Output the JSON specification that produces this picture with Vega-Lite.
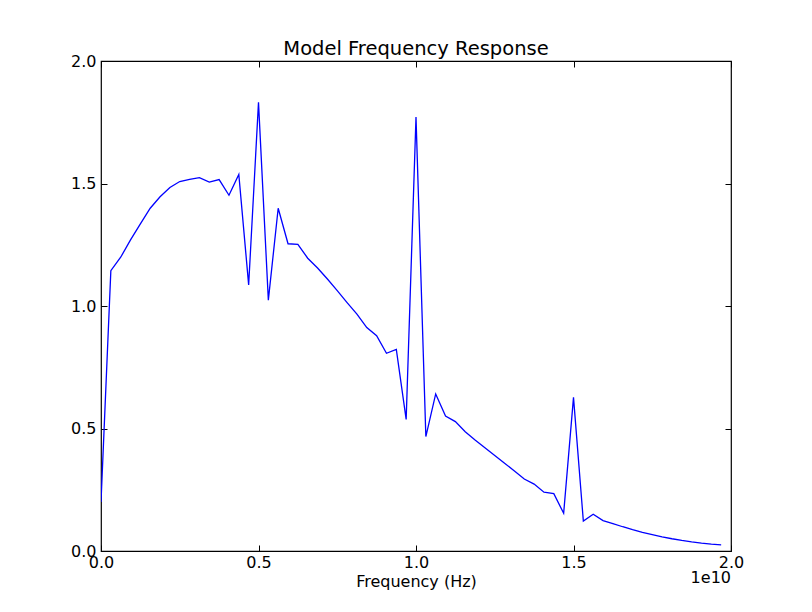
{
  "$schema": "https://vega.github.io/schema/vega-lite/v6.json",
  "width": 630,
  "height": 490,
  "autosize": {"type": "none"},
  "padding": {"left": 101, "top": 61, "right": 81, "bottom": 61},
  "background": "white",
  "title": {"text": "Model Frequency Response", "font": "DejaVu Sans", "fontSize": 19.5, "fontWeight": "normal", "color": "black", "offset": -6},
  "config": {
    "view": {"stroke": "black", "strokeWidth": 1.2},
    "axis": {"labelFont": "DejaVu Sans", "labelFontSize": 16, "labelColor": "black", "titleFont": "DejaVu Sans", "titleFontSize": 16, "titleFontWeight": "normal", "titleColor": "black", "tickColor": "black", "tickSize": -6, "tickWidth": 1, "domain": false, "grid": false, "labelFlush": false, "labelOverlap": false}
  },
  "data": {"values": [
    {"f": 0, "v": 0.2},
    {"f": 312500000, "v": 1.144},
    {"f": 625000000, "v": 1.199},
    {"f": 937500000, "v": 1.27},
    {"f": 1250000000, "v": 1.335},
    {"f": 1562500000, "v": 1.399},
    {"f": 1875000000, "v": 1.446},
    {"f": 2187500000, "v": 1.484},
    {"f": 2500000000, "v": 1.508},
    {"f": 2812500000, "v": 1.517},
    {"f": 3125000000, "v": 1.524},
    {"f": 3437500000, "v": 1.506},
    {"f": 3750000000, "v": 1.516},
    {"f": 4062500000, "v": 1.452},
    {"f": 4375000000, "v": 1.537},
    {"f": 4687500000, "v": 1.086},
    {"f": 5000000000, "v": 1.831},
    {"f": 5312500000, "v": 1.024},
    {"f": 5625000000, "v": 1.399},
    {"f": 5937500000, "v": 1.254},
    {"f": 6250000000, "v": 1.252},
    {"f": 6562500000, "v": 1.195},
    {"f": 6875000000, "v": 1.155},
    {"f": 7187500000, "v": 1.11},
    {"f": 7500000000, "v": 1.063},
    {"f": 7812500000, "v": 1.014},
    {"f": 8125000000, "v": 0.967},
    {"f": 8437500000, "v": 0.912},
    {"f": 8750000000, "v": 0.879},
    {"f": 9062500000, "v": 0.807},
    {"f": 9375000000, "v": 0.823},
    {"f": 9687500000, "v": 0.537},
    {"f": 10000000000, "v": 1.771},
    {"f": 10312500000, "v": 0.467},
    {"f": 10625000000, "v": 0.641},
    {"f": 10937500000, "v": 0.551},
    {"f": 11250000000, "v": 0.528},
    {"f": 11562500000, "v": 0.487},
    {"f": 11875000000, "v": 0.453},
    {"f": 12187500000, "v": 0.421},
    {"f": 12500000000, "v": 0.39},
    {"f": 12812500000, "v": 0.358},
    {"f": 13125000000, "v": 0.327},
    {"f": 13437500000, "v": 0.294},
    {"f": 13750000000, "v": 0.273},
    {"f": 14062500000, "v": 0.24},
    {"f": 14375000000, "v": 0.234},
    {"f": 14687500000, "v": 0.154},
    {"f": 15000000000, "v": 0.627},
    {"f": 15312500000, "v": 0.122},
    {"f": 15625000000, "v": 0.15},
    {"f": 15937500000, "v": 0.124},
    {"f": 16250000000, "v": 0.112},
    {"f": 16562500000, "v": 0.099},
    {"f": 16875000000, "v": 0.087},
    {"f": 17187500000, "v": 0.076},
    {"f": 17500000000, "v": 0.067},
    {"f": 17812500000, "v": 0.058},
    {"f": 18125000000, "v": 0.05},
    {"f": 18437500000, "v": 0.043},
    {"f": 18750000000, "v": 0.037},
    {"f": 19062500000, "v": 0.032},
    {"f": 19375000000, "v": 0.028},
    {"f": 19687500000, "v": 0.025}
  ]},
  "layer": [
    {
      "mark": {"type": "line", "color": "#0000ff", "strokeWidth": 1.3, "clip": true},
      "encoding": {
        "x": {"field": "f", "type": "quantitative", "scale": {"domain": [0, 20000000000], "nice": false, "zero": false},
              "axis": {"orient": "bottom", "values": [0, 5000000000, 10000000000, 15000000000, 20000000000], "labelExpr": "format(datum.value / 1e10, '.1f')", "labelPadding": 9, "title": "Frequency (Hz)", "titlePadding": 3}},
        "y": {"field": "v", "type": "quantitative", "scale": {"domain": [0, 2], "nice": false, "zero": false},
              "axis": {"orient": "left", "values": [0, 0.5, 1, 1.5, 2], "format": ".1f", "labelPadding": 11, "title": null}}
      }
    },
    {
      "mark": {"type": "line", "strokeOpacity": 0},
      "encoding": {
        "x": {"field": "f", "type": "quantitative", "axis": {"orient": "top", "values": [0, 5000000000, 10000000000, 15000000000, 20000000000], "labels": false, "title": null}},
        "y": {"field": "v", "type": "quantitative", "axis": {"orient": "right", "values": [0, 0.5, 1, 1.5, 2], "labels": false, "title": null}}
      }
    },
    {
      "data": {"values": [{"label": "1e10"}]},
      "mark": {"type": "text", "font": "DejaVu Sans", "fontSize": 16, "color": "black", "align": "right", "baseline": "middle", "clip": false},
      "encoding": {
        "x": {"datum": 20000000000, "type": "quantitative", "axis": null},
        "y": {"datum": -0.11, "type": "quantitative", "axis": null},
        "text": {"field": "label"}
      }
    }
  ]
}
